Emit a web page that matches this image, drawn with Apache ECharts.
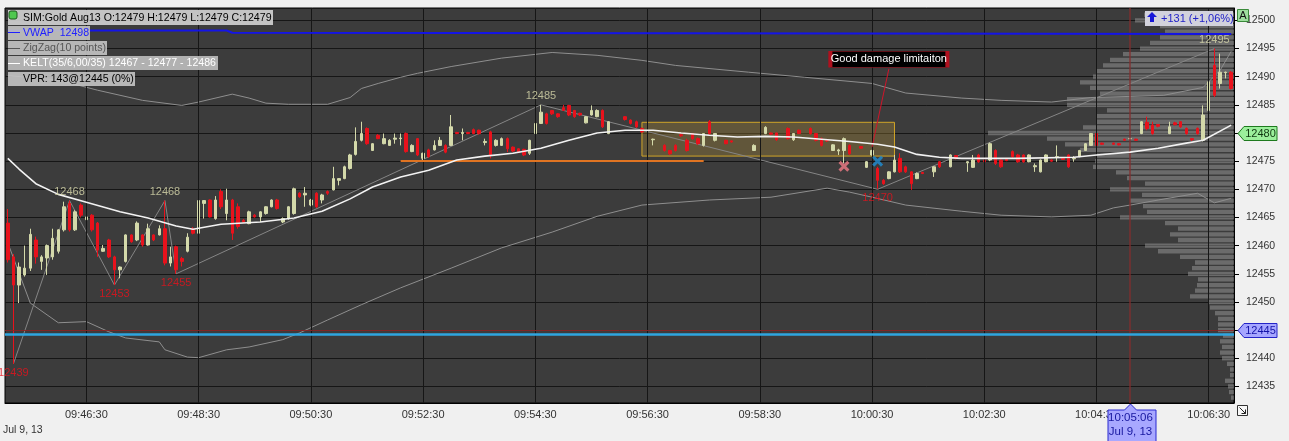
<!DOCTYPE html>
<html><head><meta charset="utf-8">
<script src="https://cdn.jsdelivr.net/npm/echarts@6/dist/echarts.min.js"></script>
<style>html,body{margin:0;padding:0;background:#f0f0f0;}#c{width:1289px;height:441px;}</style>
</head><body><div id="c"></div>
<script>
// ---------- data ----------
const opens = [
12464,12458,12453,12454.8,12456,12461,12457.2,12457.8,12458,12459,
12462.8,12467.5,12462.8,12467.2,12464.6,12465.4,12464,12459,12461,12458,
12455.7,12457.2,12461.9,12461,12461.9,12460.1,12461.9,12461.9,12463,12456.9,
12459.8,12457.7,12459,12463,12462.2,12467.5,12468.1,12464.8,12469.6,12465.7,
12468.1,12466.9,12464.5,12463.9,12465.4,12465.1,12465.7,12466.9,12468.1,12464.2,
12464.8,12465.7,12469.3,12469,12467.2,12469.3,12468.1,12469.6,12469.9,12471.6,
12471.9,12473.7,12476.2,12478.7,12480.8,12476.9,12479.6,12478.1,12477.8,12478.9,
12479,12479.9,12476.7,12479,12475.5,12477,12477,12477.8,12477.8,12477.8,
12480.1,12479.9,12480.1,12480.6,12480.5,12478.3,12480.2,12477.8,12477.8,12479,
12477.5,12477.2,12477.1,12476.4,12479.9,12481.7,12483.4,12484,12483.4,12484.5,
12484.9,12484,12483.5,12481.8,12483.2,12482.9,12484,12479.9,null,null,
12482.9,12482.3,12482,12480.8,null,12478.8,null,12477.8,12476.9,12477.8,
12479.7,12478.7,12479.9,12479,12477.8,12482,12478.7,null,12478.7,12478.6,
null,null,null,12476.9,null,12479.9,12480,12480,null,12480.8,
12478.8,12480.5,null,12480.8,12479.9,12479,12478.8,12476.9,12476.8,12476.9,
12477.8,null,12477.6,12473.9,12476.1,12473.7,12471.6,12471.9,12473.1,12475.5,
12474,12473.1,12471.9,12473,null,12473.1,12474.9,null,12474,12476,
null,12474.7,12473.9,12476.1,12475.2,12475.2,12476.9,12475.2,12475.3,12476.7,
12476.1,12476.1,12474.9,12474,12473.1,12474.9,12475.2,12475.7,12475.5,12476.1,
12475.4,12475.8,12476.9,12477.8,12479.9,12478.2,null,12478.2,12478.1,12478.9,
12479,12478.9,12479.9,12481.9,12481.4,12481.5,null,12479.9,12481.8,12482,
12480.8,12479,12480.8,12478.7,12484,12492,12488.8,12490.7,12490.8];
const closes = [
12457.5,12453,12456.2,12456,12462,12458,12458,12460,12461.3,12462.8,
12466.9,12462.8,12466,12465.4,12465.1,12462.8,12459.2,12459.5,12458,12455.7,
12456.2,12461.9,12460.7,12464,12460.1,12463,12461,12463,12456.9,12458,
12455.7,12457.2,12461.5,12462.2,12468,12468,12465.1,12468.1,12466.9,12468.1,
12462.2,12463.4,12464.2,12466,12465.1,12466,12466.9,12468.1,12466.6,12464.8,
12466.9,12470.1,12468.7,12469.3,12468.1,12466.9,12469,12469.3,12471.9,12471.9,
12474,12476.1,12478.5,12479.9,12478.1,12478.1,12479,12479,12478.7,12479.1,
12479.1,12476.7,12477.8,12476.1,12476.4,12475.8,12477.8,12478.7,12476.6,12481.1,
12479.9,12480.1,12479.9,12479.9,12479.9,12478.5,12476.1,12478.7,12479,12477.2,
12476.8,12476.6,12476.1,12478.7,12481.7,12483.7,12481.7,12483.4,12482.9,12484,
12483.2,12482.9,12483.2,12482.9,12484,12484,12481.1,12482,null,null,
12482.4,12481.7,12481.1,12480.2,null,12478.9,null,12476.9,12476.3,12476.9,
12479.5,12476.9,12479,12478.1,12479.9,12479.9,12479.9,null,12478.1,12478.4,
null,null,null,12477.8,null,12481,12479.8,12478.8,null,12479,
12479.9,12479.9,null,12479.9,12478.7,12477.8,12478.6,12477.9,12477,12479,
12476.3,null,12477.3,12474.9,12476.9,12471.6,12471,12473.1,12475.2,12473.1,
12473.1,12471,12472.8,12472.8,null,12474,12474,null,12476.1,12475.5,
null,12474.9,12475.2,12474.9,12474.9,12478.1,12474.6,12474,12475.1,12475.8,
12474.9,12474.9,12476.1,12474.2,12475.2,12476.1,12475,12475.8,12475.3,12474,
12475.5,12476.9,12478.1,12479.9,12477.8,12478,null,12478,12477.9,12478.7,
12479,12478.7,12482,12480.8,12479.9,12481.2,null,12481.1,12481.5,12481.1,
12479.9,12478.8,12479.9,12483.2,12489.1,12486.7,12490.8,12490.8,12487.9];
const lows = [
12457,12439,12449.8,12454.5,12455.5,12456.8,12455.7,12454.8,12457.5,12458.6,
12462.5,12462.5,12462.6,12465,12464,12462.5,12458,12458.9,12457.8,12453,
12454.2,12457,12460.5,12460.8,12459.8,12460,12460.8,12461.8,12456.5,12456.3,
12455,12456.3,12458.8,12462,12462,12464.8,12465,12464.6,12466.5,12464.5,
12461,12463,12464,12463.8,12465,12464.2,12465.5,12466.8,12466.4,12464,
12464.6,12465.5,12468.5,12466.9,12467,12466.7,12467.5,12469,12469.8,12470.7,
12471.8,12473.5,12476,12478.5,12477.9,12476.8,12478.9,12478,12477.7,12478.1,
12477.8,12476.5,12476.6,12475.9,12475.2,12475.6,12476.9,12477.7,12476.4,12477.7,
12479.8,12478.7,12479.8,12479.8,12479.7,12477.8,12475.5,12477.6,12477.7,12476.6,
12476.6,12476.4,12475.9,12476.1,12479.8,12481.6,12481.5,12483.2,12482.7,12483.9,
12483,12482.7,12483,12481.7,12483.1,12482.8,12480.9,12479.8,null,null,
12482.2,12481.5,12480.9,12480,null,12477.8,null,12476.7,12476.1,12476.7,
12479.3,12476.7,12478.8,12477.9,12477.6,12479.7,12478.5,null,12478,12478.3,
null,null,null,12476.8,null,12479.8,12479.6,12478.6,null,12478.8,
12478.6,12479.8,null,12479.7,12478.5,12477.6,12478.4,12476.8,12476.1,12474.6,
12476.1,null,12477.2,12473.8,12476,12470.1,12470.8,12471.8,12473,12472.9,
12472.9,12469.9,12471.8,12472.7,null,12472.2,12473.8,null,12473.9,12475.3,
null,12473.1,12473.8,12474.7,12474.7,12475,12474.3,12473.8,12475,12475.6,
12474.7,12474.7,12474.8,12473.1,12473,12474.8,12474.9,12474.9,12475.2,12473.8,
12474.9,12475.7,12476.8,12477.7,12477.6,12477.9,null,12477.9,12477.8,12478.6,
12479,12478.6,12479.8,12480.5,12479.7,12481,null,12479.8,12481.3,12480.9,
12479.7,12478.6,12479.7,12478.5,12483.8,12486.4,12487.9,12489.7,12487.7];
const highs = [
12466.5,12458.5,12457,12460,12463,12461.6,12458.3,12460.2,12463,12462.9,
12467.8,12468,12466.3,12467.5,12466,12465.6,12464.2,12460.1,12461.2,12458.2,
12456.3,12462,12462,12464.3,12462,12463.9,12462,12463.6,12468,12459.8,
12460,12458,12462.2,12463.3,12469,12468.1,12468.2,12468.8,12470,12470.1,
12468.3,12467.5,12464.7,12466.2,12465.6,12466.1,12467,12468.2,12468.3,12465,
12467,12470.3,12469.5,12470.4,12468.3,12469.5,12469.2,12469.8,12474,12472,
12474.2,12476.3,12481,12482,12481,12478.2,12479.8,12479.9,12478.9,12479.9,
12479.9,12480.1,12478,12479.1,12476.5,12477.2,12478.7,12479.3,12478,12483.2,
12480.2,12480.8,12480.2,12480.8,12480.6,12479,12480.4,12478.9,12479.2,12479.2,
12477.6,12477.3,12477.2,12478.8,12481.8,12485,12483.6,12484.1,12483.5,12485,
12485,12484.1,12483.6,12483,12484.9,12484.2,12484.2,12482.1,null,null,
12483,12482.4,12482.2,12481,null,12479,null,12478,12477,12478,
12479.9,12479,12480,12479.2,12480,12482.3,12480,null,12478.8,12478.7,
null,null,null,12478,null,12481.2,12480.1,12480.1,null,12481,
12480,12480.6,null,12481,12480,12479.2,12478.9,12478,12477.2,12479.2,
12478,null,12477.7,12475,12477,12474,12471.8,12473.2,12476.1,12476.4,
12474.2,12473.2,12473,12473.1,null,12474.1,12475,null,12476.2,12476.1,
null,12475,12476.1,12476.3,12475.3,12478.3,12477.1,12475.3,12475.4,12476.9,
12476.3,12476.2,12476.2,12474.6,12475.3,12476.2,12475.3,12477.8,12475.6,12476.2,
12475.9,12477,12478.2,12480,12480.5,12478.3,null,12478.3,12478.2,12479,
12479,12479,12482.1,12482.9,12482,12481.6,null,12482,12482,12482.1,
12481,12479.1,12481,12484.9,12492,12495,12494.1,12490.9,12491];

// Keltner channel readings [bar index, price]
const keltMid = [[0,12475.5],[2,12473.6],[5,12471],[9,12469.1],[14,12467.7],[20,12466],[25,12464.9],[30,12463.5],[33,12462.9],[38,12463.8],[45,12464.2],[51,12464.9],[56,12466.1],[61,12468.3],[65,12470.4],[70,12472.2],[75,12473.4],[80,12475.2],[85,12475.9],[90,12476.4],[95,12477.3],[100,12478.7],[105,12480],[110,12480.5],[115,12480.5],[120,12480],[125,12479.6],[130,12479.3],[135,12479.4],[140,12479.3],[145,12478.9],[150,12478.5],[155,12478],[158,12477.5],[162,12476.2],[166,12475.7],[170,12475.5],[180,12475.5],[190,12475.7],[194,12476.1],[200,12476.6],[205,12477.3],[210,12478.2],[213,12478.7],[218,12481.4]];
const keltUp = [[0,12490.2],[9,12489.4],[16,12487.6],[24,12485.8],[31,12484.9],[34,12485.5],[40,12486.9],[43,12486.2],[46,12485.3],[50,12485.1],[57,12485.1],[61,12486.3],[63,12487.9],[66,12488.8],[70,12489.9],[73,12490.6],[79,12491.8],[88,12493.3],[97,12494.3],[105,12493.8],[113,12492.9],[119,12492],[132,12490.8],[142,12489.9],[154,12488.8],[160,12487.1],[170,12486.2],[177,12485.8],[186,12485.5],[193,12486.3],[200,12486.5],[206,12486.7],[213,12488.1],[216,12491.1],[218,12494.5]];
const keltLow = [[0,12460.5],[4,12449.8],[9,12446.3],[14,12446.5],[18,12444.7],[21,12443.6],[27,12442.9],[28,12441.5],[32,12440.2],[34,12440.1],[39,12441.5],[43,12442],[49,12443.3],[52,12444.5],[57,12446.8],[63,12449.5],[70,12452.5],[79,12456],[88,12459.6],[97,12462.4],[105,12465.2],[113,12467.2],[125,12468.1],[136,12468.6],[146,12470.2],[150,12469.5],[154,12468.6],[160,12467.2],[170,12466.1],[177,12465.4],[186,12465.1],[193,12465.4],[197,12466.7],[200,12467.2],[205,12468.1],[212,12469.3],[215,12467.6],[218,12468.4]];
const vwap = [[0,12498.2],[39,12498.2],[40,12497.8],[120,12497.7],[218,12497.6]];
const zzIdx = [1,11,19,28,30,95,155,215];
const zzVal = [12439,12468,12453,12468,12455,12485,12470,12495];
const zzHigh = [false,true,false,true,false,true,false,true];

// volume profile (price level, volume)
const profPrices = [12433,12434,12435,12436,12437,12438,12439,12440,12441,12442,12443,12444,12445,12446,12447,12448,12449,12450,12451,12452,12453,12454,12455,12456,12457,12458,12459,12460,12461,12462,12463,12464,12465,12466,12467,12468,12469,12470,12471,12472,12473,12474,12475,12476,12477,12478,12479,12480,12481,12482,12483,12484,12485,12486,12487,12488,12489,12490,12491,12492,12493,12494,12495,12496,12497,12498,12499,12500,12501];
const profVols = [3,5,6,9,4,4,7,12,14,12,14,11,16,16,16,19,24,26,44,39,37,36,46,42,39,54,76,89,56,64,56,69,114,87,91,104,92,124,89,107,118,141,139,137,154,169,187,246,151,137,137,127,167,167,134,144,154,141,137,131,124,111,94,84,74,69,74,99,90];

const tickIdx = [14,34,54,74,94,114,134,154,174,194,214];
const Y_MIN = 12432.05, Y_MAX = 12502.2;
const lastPrice = 12480, crossPrice = 12445, crossIdx = 200, poc = 12444.3;

// categories: 6-second bars from 09:45:06
const categories = [];
const pad = n => (n < 10 ? '0' : '') + n;
for (let i = 0; i < opens.length; i++) {
  const s = 9 * 3600 + 45 * 60 + 6 + i * 6;
  categories.push(pad(Math.floor(s / 3600)) + ':' + pad(Math.floor((s % 3600) / 60)) + ':' + pad(s % 60));
}
const tickSet = new Set(tickIdx);
const candles = opens.map((o, i) => o == null ? '-' : [o, closes[i], lows[i], highs[i]]);

const FONT = '"Liberation Sans", Arial, sans-serif';
const UP = '#d4d9aa', DOWN = '#e8121c';

const chart = echarts.init(document.getElementById('c'), null, {renderer: 'canvas', width: 1289, height: 441});

const option = {
  animation: false,
  backgroundColor: '#f0f0f0',
  grid: {left: 5, right: 55, top: 8, bottom: 38, show: true, backgroundColor: '#3c3c3c', borderColor: '#000', borderWidth: 1},
  xAxis: [
    {type: 'category', data: categories, boundaryGap: true,
     axisLine: {lineStyle: {color: '#000'}},
     axisTick: {interval: 0, length: 3, alignWithLabel: true, lineStyle: {color: '#444'}},
     axisLabel: {interval: (i) => tickSet.has(i), color: '#333', fontSize: 11, fontFamily: FONT, margin: 6},
     splitLine: {show: false}},
    {type: 'category', data: categories, boundaryGap: true, position: 'bottom',
     axisLine: {show: false},
     axisTick: {interval: (i) => tickSet.has(i), length: 6, alignWithLabel: true, lineStyle: {color: '#000'}},
     axisLabel: {show: false}, splitLine: {show: false}},
    {type: 'value', min: 0, max: 1229, inverse: true, show: false}
  ],
  yAxis: [{type: 'value', position: 'right', min: Y_MIN, max: Y_MAX, splitNumber: 14, scale: true,
    axisLine: {show: true, lineStyle: {color: '#000'}},
    axisTick: {show: true, length: 5, lineStyle: {color: '#000'}},
    axisLabel: {color: '#333', fontSize: 10.5, fontFamily: FONT, margin: 12, showMinLabel: false, showMaxLabel: false,
      formatter: v => String(Math.round(v))},
    splitLine: {show: true, lineStyle: {color: '#161616', width: 1}}}],
  series: [
    {name: 'vgrid', type: 'line', data: [], z: 0, silent: true,
     markLine: {silent: true, symbol: ['none', 'none'], label: {show: false},
       lineStyle: {color: '#161616', width: 1, type: 'solid'},
       data: tickIdx.map(i => ({xAxis: categories[i]}))}},
    {name: 'VPR', type: 'custom', xAxisIndex: 2, yAxisIndex: 0, z: 1, silent: true, clip: true,
     data: profPrices.map((p, i) => [profVols[i], p]),
     encode: {x: 0, y: 1},
     renderItem: (params, api) => {
       const v = api.value(0), p = api.value(1);
       const a = api.coord([v, p + 0.38]);
       const b = api.coord([0, p - 0.38]);
       return {type: 'rect', shape: {x: a[0], y: a[1], width: b[0] - a[0], height: b[1] - a[1]},
         style: {fill: 'rgba(168,168,168,0.44)'}};
     }},
    {name: 'cross', type: 'line', data: [], z: 2, silent: true,
     markLine: {silent: true, symbol: ['none', 'none'], label: {show: false},
       data: [
         {xAxis: categories[crossIdx], lineStyle: {color: 'rgba(130,45,45,0.85)', width: 1.5, type: 'solid'}},
         {yAxis: crossPrice, lineStyle: {color: 'rgba(140,40,40,0.9)', width: 1, type: 'solid'}},
         {yAxis: poc, lineStyle: {color: '#2ea6e0', width: 2.5, type: 'solid'}}
       ]}},
    {name: 'KELT up', type: 'line', data: keltUp, showSymbol: false, z: 3, silent: true,
     lineStyle: {color: '#8e8e8e', width: 1}},
    {name: 'KELT low', type: 'line', data: keltLow, showSymbol: false, z: 3, silent: true,
     lineStyle: {color: '#8e8e8e', width: 1}},
    {name: 'ZigZag', type: 'line', data: zzIdx.map((x, i) => [x, zzVal[i]]), showSymbol: false, z: 3, silent: true,
     lineStyle: {color: '#858585', width: 1}},
    {name: 'Gold', type: 'candlestick', data: candles, barWidth: 3, z: 4,
     itemStyle: {color: UP, color0: DOWN, borderColor: UP, borderColor0: DOWN, borderWidth: 1}},
    {name: 'box', type: 'line', data: [], z: 5, silent: true,
     markArea: {silent: true, itemStyle: {color: 'rgba(185,150,55,0.30)', borderColor: '#d0a428', borderWidth: 1},
       data: [[{coord: [categories[113], 12481.9]}, {coord: [categories[158], 12475.9]}]]},
     markLine: {silent: true, symbol: ['none', 'none'], label: {show: false},
       lineStyle: {color: '#e07422', width: 2, type: 'solid'},
       data: [[{coord: [categories[70], 12475]}, {coord: [categories[124], 12475]}]]}},
    {name: 'KELT mid', type: 'line', data: keltMid, showSymbol: false, z: 6, silent: true,
     lineStyle: {color: '#f2f2f2', width: 1.6}},
    {name: 'VWAP', type: 'line', data: vwap, showSymbol: false, z: 6, silent: true,
     lineStyle: {color: '#1414e6', width: 2}},
    {name: 'zzLabels', type: 'scatter', z: 7, silent: true, symbolSize: 1,
     itemStyle: {color: 'rgba(0,0,0,0)'},
     data: zzIdx.map((x, i) => ({value: [x, zzVal[i]],
       label: {show: true, formatter: String(zzVal[i]), position: zzHigh[i] ? 'top' : 'bottom', distance: 3,
         color: zzHigh[i] ? '#d9d9ad' : '#e8121c', fontSize: 11, fontFamily: FONT}}))},
    {name: 'marks', type: 'scatter', z: 8, silent: true, symbolSize: 11,
     symbol: 'path://M2,0 L5,3 L8,0 L10,2 L7,5 L10,8 L8,10 L5,7 L2,10 L0,8 L3,5 L0,2 Z',
     data: [
       {value: [149, 12474.1], itemStyle: {color: '#f07a86'}},
       {value: [155, 12475.0], itemStyle: {color: '#1e8fd6'}}
     ]},
    {name: 'note', type: 'line', data: [], z: 9, silent: true,
     markLine: {silent: true, symbol: ['none', 'none'], label: {show: false},
       lineStyle: {color: '#d0142a', width: 1, type: 'solid'},
       data: [[{coord: [categories[154], 12477.5]}, {coord: [categories[157], 12491.4]}]]},
     markPoint: {silent: true,
       data: [{coord: [categories[157], 12493.1], symbol: 'rect', symbolSize: [117, 16],
         itemStyle: {color: '#000', borderColor: '#b0101e', borderWidth: 1.5},
         label: {show: true, position: 'inside', formatter: 'Good damage limitaiton', color: '#fff', fontSize: 11, fontFamily: FONT}}]}}
  ]
};
chart.setOption(option);

// ---------- overlays ----------
const yp = v => chart.convertToPixel({yAxisIndex: 0}, v);
const xp = i => chart.convertToPixel({xAxisIndex: 0}, categories[i]);
const FL = '10.6px ' + FONT;
function txt(x, y, s, fill, align, font) {
  return {type: 'text', x: x, y: y, z: 100, silent: true,
    style: {text: s, fill: fill, font: font || FL, textAlign: align || 'left', textVerticalAlign: 'middle', align: align || 'left', verticalAlign: 'middle'}};
}
function rect(x, y, w, h, fill, stroke, lw) {
  return {type: 'rect', z: 99, silent: true, shape: {x: x, y: y, width: w, height: h},
    style: {fill: fill, stroke: stroke || null, lineWidth: lw || 0}};
}
function priceTag(v, fill, stroke, color) {
  const y = Math.round(yp(v)) + 0.5;
  return [
    {type: 'polygon', z: 100, silent: true, shape: {points: [[1238, y], [1244, y - 7], [1277, y - 7], [1277, y + 7], [1244, y + 7]]},
     style: {fill: fill, stroke: stroke, lineWidth: 1}},
    txt(1260.5, y, String(v), color, 'center', '11px ' + FONT)
  ];
}
const cx = Math.round(xp(crossIdx)) + 0.5;
const g = [];
// legend block
g.push(rect(8, 10, 265, 15, 'rgba(208,208,208,0.92)'));
g.push({type: 'rect', z: 100, silent: true, shape: {x: 9, y: 11, width: 8, height: 8, r: 2},
  style: {fill: '#4fc84f', stroke: '#1c5a1c', lineWidth: 1}});
g.push(txt(23, 18, 'SIM:Gold Aug13 O:12479 H:12479 L:12479 C:12479', '#000'));
g.push(rect(8, 26, 82, 14, 'rgba(196,196,196,0.9)'));
g.push({type: 'line', z: 100, silent: true, shape: {x1: 8, y1: 32.5, x2: 20, y2: 32.5}, style: {stroke: '#2020ff', lineWidth: 1}});
g.push(txt(23, 33, 'VWAP  12498', '#2020ff'));
g.push(rect(8, 41, 99, 14, 'rgba(196,196,196,0.9)'));
g.push({type: 'line', z: 100, silent: true, shape: {x1: 8, y1: 48.5, x2: 20, y2: 48.5}, style: {stroke: '#555', lineWidth: 1}});
g.push(txt(23, 48, 'ZigZag(10 points)', '#555'));
g.push(rect(8, 56, 210, 14, 'rgba(190,190,190,0.9)'));
g.push({type: 'line', z: 100, silent: true, shape: {x1: 8, y1: 63.5, x2: 20, y2: 63.5}, style: {stroke: '#fff', lineWidth: 1}});
g.push(txt(23, 63, 'KELT(35/6,00/35) 12467 - 12477 - 12486', '#fff'));
g.push(rect(8, 72, 127, 14, 'rgba(196,196,196,0.9)'));
g.push(txt(23, 79, 'VPR: 143@12445 (0%)', '#000'));
// change box top right
g.push(rect(1145, 11, 88, 15, '#d2d2dc'));
g.push({type: 'polygon', z: 100, silent: true, shape: {points: [[1152, 12], [1157, 17], [1154, 17], [1154, 22], [1150, 22], [1150, 17], [1147, 17]]}, style: {fill: '#1818d8'}});
g.push(txt(1161, 18.5, '+131 (+1,06%)', '#2222c8', 'left', '11px ' + FONT));
// "A" box
g.push(rect(1237.5, 9.5, 11, 12, '#9ede9e', '#3a8a3a', 1));
g.push(txt(1243, 15.5, 'A', '#111', 'center', '11px ' + FONT));
// price tags
priceTag(lastPrice, '#9cf09c', '#1e7a1e', '#103810').forEach(e => g.push(e));
priceTag(crossPrice, '#a6a6ff', '#2424c8', '#1414a8').forEach(e => g.push(e));
// time crosshair tag
g.push({type: 'polygon', z: 100, silent: true,
  shape: {points: [[1108, 410], [cx - 6, 410], [cx, 404], [cx + 6, 410], [1156, 410], [1156, 442], [1108, 442]]},
  style: {fill: '#a8a8ff', stroke: '#2828d0', lineWidth: 1}});
g.push(txt(cx, 417.5, '10:05:06', '#1818a0', 'center', '11.5px ' + FONT));
g.push(txt(cx, 431.5, 'Jul 9, 13', '#1818a0', 'center', '11.5px ' + FONT));
// date under axis
g.push(txt(3, 430, 'Jul 9, 13', '#333', 'left', '10.5px ' + FONT));
// corner icon
g.push(rect(1237.5, 405.5, 10, 10, '#f8f8f8', '#333', 1));
g.push({type: 'line', z: 101, silent: true, shape: {x1: 1239.5, y1: 407.5, x2: 1245.5, y2: 413.5}, style: {stroke: '#222', lineWidth: 1}});
g.push({type: 'polyline', z: 101, silent: true, shape: {points: [[1241.5, 413.5], [1245.5, 413.5], [1245.5, 409.5]]}, style: {stroke: '#222', lineWidth: 1, fill: null}});
chart.setOption({graphic: g});
</script>
</body></html>
